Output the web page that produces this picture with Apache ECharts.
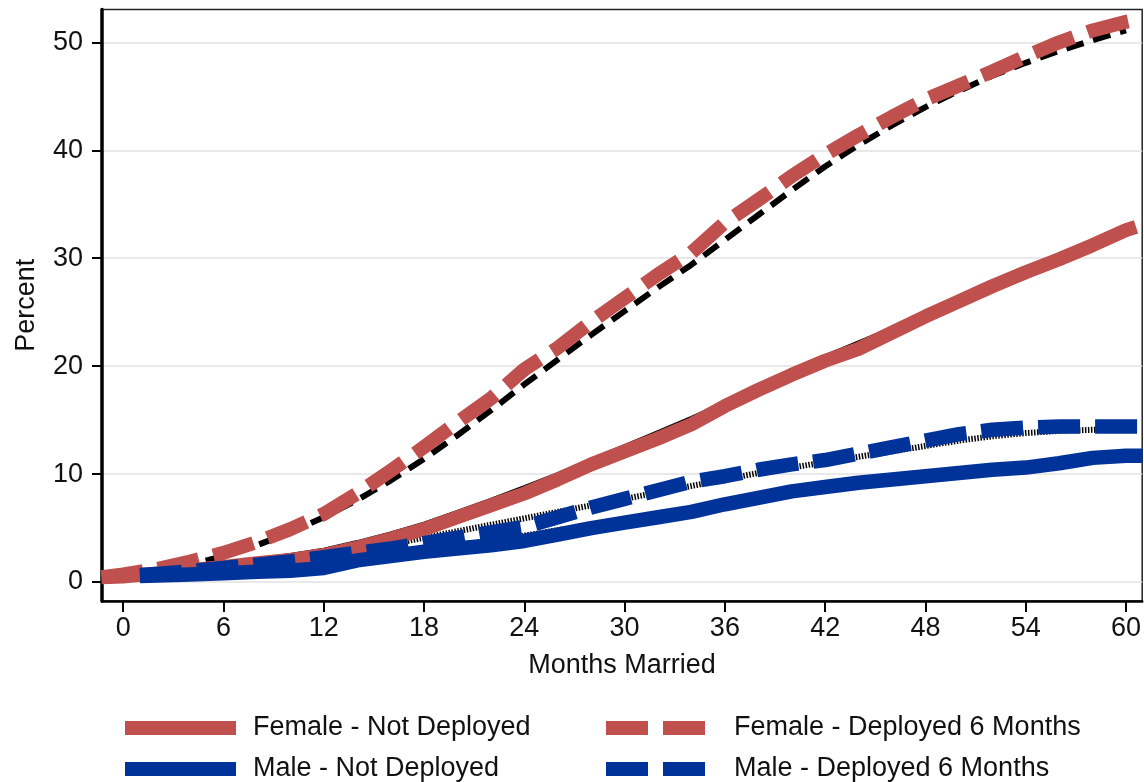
<!DOCTYPE html>
<html>
<head>
<meta charset="utf-8">
<script src="https://cdn.jsdelivr.net/npm/echarts@6/dist/echarts.min.js"></script>
<style>
  html, body { margin: 0; padding: 0; background: #fff; }
  #chart { width: 1144px; height: 782px; }
</style>
</head>
<body>
<div id="chart"></div>
<script>
// ---- Data ----
const xTicks = [0, 6, 12, 18, 24, 30, 36, 42, 48, 54, 60];
const yTicks = [0, 10, 20, 30, 40, 50];

const monthsF = [-1.3, 0, 2, 4, 6, 8, 10, 12, 14, 16, 18, 20, 22, 24, 26, 28, 30, 32, 34, 36, 38, 40, 42, 44, 46, 48, 50, 52, 54, 56, 58, 60, 60.6];
const femaleNotDeployed = [0.45, 0.5, 0.8, 1.1, 1.4, 1.75, 2.05, 2.5, 3.2, 4.0, 4.9, 6.0, 7.1, 8.2, 9.5, 10.9, 12.1, 13.3, 14.6, 16.3, 17.8, 19.2, 20.5, 21.6, 23.1, 24.6, 26.0, 27.4, 28.7, 29.9, 31.2, 32.6, 32.9];
const femaleNotDeployedFit = [null, 0.5, 0.8, 1.2, 1.6, 2.1, 2.5, 3.0, 3.7, 4.5, 5.4, 6.5, 7.6, 8.8, 10.0, 11.3, 12.6, 13.9, 15.2, 16.6, 18.0, 19.5, 20.9, 22.2, 23.5, 24.9, 26.2, 27.5, 28.8, 30.0, 31.2, 32.4, null];
const femaleDeployed = [0.45, 0.7, 1.2, 1.9, 2.7, 3.7, 4.9, 6.3, 8.2, 10.3, 12.5, 14.8, 17.0, 19.7, 21.7, 24.1, 26.3, 28.5, 30.5, 33.3, 35.4, 37.6, 39.6, 41.4, 43.1, 44.7, 46.0, 47.3, 48.7, 50.0, 51.1, 51.9, 52.1];
const femaleDeployedFit = [null, 0.5, 1.0, 1.6, 2.4, 3.4, 4.6, 6.0, 7.6, 9.4, 11.4, 13.6, 15.9, 18.3, 20.6, 22.9, 25.1, 27.3, 29.4, 31.7, 34.0, 36.3, 38.5, 40.5, 42.3, 44.0, 45.5, 46.9, 48.1, 49.2, 50.2, 51.1, null];

const monthsM = [1, 2, 4, 6, 8, 10, 12, 14, 16, 18, 20, 22, 24, 26, 28, 30, 32, 34, 36, 38, 40, 42, 44, 46, 48, 50, 52, 54, 56, 58, 60, 61];
const maleNotDeployed = [0.55, 0.6, 0.7, 0.8, 0.95, 1.05, 1.3, 2.0, 2.4, 2.8, 3.1, 3.4, 3.8, 4.4, 5.0, 5.5, 6.0, 6.5, 7.2, 7.8, 8.4, 8.8, 9.2, 9.5, 9.8, 10.1, 10.4, 10.6, 11.0, 11.5, 11.7, 11.7];
const maleNotDeployedFit = [0.6, 0.7, 0.9, 1.1, 1.3, 1.6, 1.9, 2.2, 2.6, 3.0, 3.4, 3.8, 4.3, 4.8, 5.3, 5.8, 6.3, 6.8, 7.3, 7.8, 8.3, 8.8, 9.2, 9.6, 10.0, 10.3, 10.6, 10.9, 11.2, 11.5, 11.7, null];
const maleDeployed = [0.65, 0.75, 1.0, 1.3, 1.6, 1.9, 2.3, 2.7, 3.1, 3.6, 4.1, 4.6, 5.1, 6.0, 6.9, 7.7, 8.5, 9.3, 9.8, 10.4, 10.9, 11.3, 11.9, 12.5, 13.1, 13.7, 14.1, 14.3, 14.4, 14.4, 14.4, 14.4];
const maleDeployedFit = [0.6, 0.7, 1.0, 1.3, 1.7, 2.1, 2.5, 3.0, 3.5, 4.1, 4.7, 5.3, 5.9, 6.5, 7.1, 7.7, 8.3, 8.9, 9.5, 10.1, 10.6, 11.1, 11.6, 12.1, 12.6, 13.1, 13.5, 13.8, 14.0, 14.1, 14.2, null];

const names = {
  fnd: 'Female - Not Deployed',
  fd: 'Female - Deployed 6 Months',
  mnd: 'Male - Not Deployed',
  md: 'Male - Deployed 6 Months'
};

// ---- Styles ----
const RED = '#C0504D';
const BLUE = '#003399';
const FONT = '"Liberation Sans", Arial, Helvetica, sans-serif';
const TXT = '#111111';
const FS = 27;

function pairs(xs, ys) {
  return xs.map((x, i) => [x, ys[i]]);
}

function lineSeries(name, xs, ys, color, width, type, z) {
  return {
    name: name,
    type: 'line',
    data: pairs(xs, ys),
    showSymbol: false,
    symbol: 'none',
    connectNulls: false,
    silent: true,
    z: z,
    lineStyle: { color: color, width: width, type: type, cap: 'butt', join: 'round' },
    itemStyle: { color: color },
    emphasis: { disabled: true }
  };
}

function legendItem(name, left, top) {
  return {
    orient: 'horizontal',
    left: left,
    top: top,
    padding: 0,
    itemWidth: 111,
    itemHeight: 14,
    selectedMode: false,
    data: [name],
    itemStyle: { opacity: 0 },
    lineStyle: { width: 14, cap: 'butt', join: 'miter', opacity: 1 },
    textStyle: { fontFamily: FONT, fontSize: FS, color: TXT, lineHeight: FS, padding: [0, 0, 0, 12] }
  };
}

const chart = echarts.init(document.getElementById('chart'), null, { renderer: 'canvas' });

chart.setOption({
  animation: false,
  backgroundColor: '#ffffff',
  grid: {
    left: 102, top: 9.5, width: 1044, height: 591.5,
    show: true, borderColor: '#222', borderWidth: 1.5, backgroundColor: 'transparent',
    containLabel: false
  },
  legend: [
    legendItem(names.fnd, 118, 714.5),
    legendItem(names.mnd, 118, 755.5),
    legendItem(names.fd, 599, 714.5),
    legendItem(names.md, 599, 755.5)
  ],
  xAxis: {
    type: 'value',
    min: -1.27,
    max: 60.97,
    name: 'Months Married',
    nameLocation: 'middle',
    nameGap: 51,
    nameTextStyle: { fontFamily: FONT, fontSize: FS, color: TXT },
    axisLine: { show: true, onZero: false, lineStyle: { color: '#000', width: 2.5 } },
    axisTick: { show: true, customValues: xTicks, length: 11, lineStyle: { color: '#000', width: 2 } },
    axisLabel: { customValues: xTicks, margin: 14, fontFamily: FONT, fontSize: FS, color: TXT },
    splitLine: { show: false }
  },
  yAxis: {
    type: 'value',
    min: -1.76,
    max: 53.04,
    splitNumber: 5,
    name: 'Percent',
    nameLocation: 'middle',
    nameGap: 62,
    nameTextStyle: { fontFamily: FONT, fontSize: FS, color: TXT },
    axisLine: { show: true, onZero: false, lineStyle: { color: '#000', width: 3.5 } },
    axisTick: { show: true, customValues: yTicks, length: 10, lineStyle: { color: '#000', width: 2 } },
    axisLabel: { customValues: yTicks, margin: 19, fontFamily: FONT, fontSize: FS, color: TXT },
    splitLine: { show: true, lineStyle: { color: '#e2e2e2', width: 1.5 } }
  },
  series: [
    lineSeries('fit1', monthsF, femaleNotDeployedFit, '#000', 4, 'solid', 2),
    lineSeries('fit2', monthsF, femaleDeployedFit, '#000', 6, [18, 10], 2),
    lineSeries('fit3', monthsM, maleNotDeployedFit, '#000', 6, [1.5, 1.5], 2),
    lineSeries('fit4', monthsM, maleDeployedFit, '#000', 6, [1.5, 1.5], 2),
    lineSeries(names.fnd, monthsF, femaleNotDeployed, RED, 14, 'solid', 3),
    lineSeries(names.fd, monthsF, femaleDeployed, RED, 14, [42, 15], 3),
    lineSeries(names.mnd, monthsM, maleNotDeployed, BLUE, 14.5, 'solid', 3),
    lineSeries(names.md, monthsM, maleDeployed, BLUE, 14.5, [42, 15], 3)
  ]
});
</script>
</body>
</html>
